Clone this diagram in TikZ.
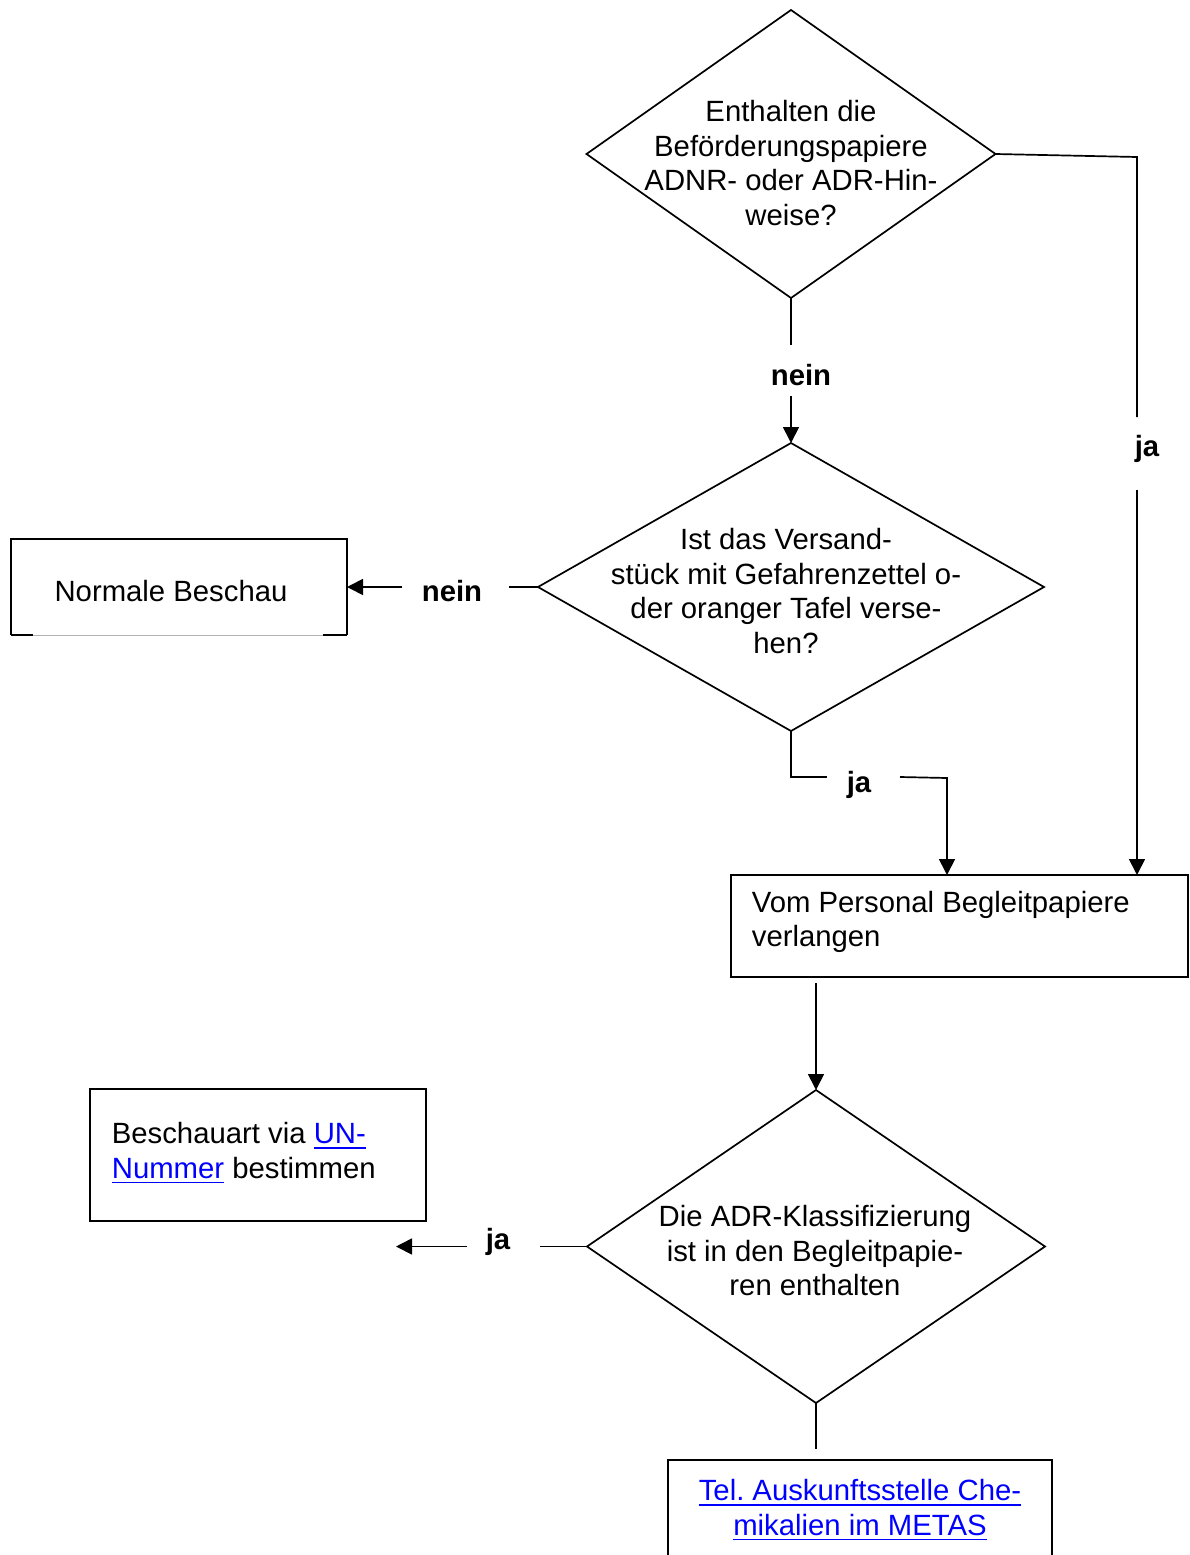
\documentclass[tikz,border=0pt]{standalone}
\usepackage{fontspec}
\setmainfont{Liberation Sans}
\usetikzlibrary{shapes.geometric,arrows.meta}
\definecolor{linkblue}{RGB}{0,0,255}
\newcommand{\lnk}[1]{\textcolor{linkblue}{\setbox0\hbox{#1}\rlap{\rule[-5pt]{\wd0}{1.8pt}}\box0}}
\begin{document}
\begin{tikzpicture}[x=1pt,y=-1pt, line width=1.7pt,
  every node/.style={font=\fontsize{29.3}{34.5}\selectfont},
  decision/.style={diamond, draw, inner sep=0pt, outer sep=0pt},
  box/.style={draw, rectangle, inner sep=0pt, outer sep=0pt},
  txt/.style={align=center, inner sep=0pt},
  ltxt/.style={align=left, inner sep=0pt, anchor=west},
  lbl/.style={font=\fontsize{29.3}{34.5}\selectfont\bfseries, inner sep=0pt},
  arr/.style={-{Triangle[length=16pt,width=16pt]}},
]
\useasboundingbox (0,0) rectangle (1189,1555);
\clip (0,0) rectangle (1189,1555);

% decisions
\node[decision, minimum width=409pt, minimum height=288pt] (d1) at (791,154) {};
\node[txt] (t1) at (791,163) {Enthalten die\\Beförderungspapiere\\ADNR- oder ADR-Hin-\\weise?};
\node[decision, minimum width=506pt, minimum height=288pt] (d2) at (791,587) {};
\node[txt] (t2) at (786,591) {Ist das Versand-\\stück mit Gefahrenzettel o-\\der oranger Tafel verse-\\hen?};
\node[decision, minimum width=458pt, minimum height=313pt] (d3) at (816,1246.5) {};
\node[txt] (t3) at (815,1251) {Die ADR-Klassifizierung\\ist in den Begleitpapie-\\ren enthalten};

% boxes
\node[minimum width=336pt, minimum height=96pt, inner sep=0pt, outer sep=0pt] (nb) at (179,587) {};
\draw (nb.south west) -- (nb.north west) -- (nb.north east) -- (nb.south east);
\draw (nb.south west) -- ++(22,0);
\draw (nb.south east) -- ++(-24,0);
\draw[black!30, line width=1pt] ([xshift=22pt]nb.south west) -- ([xshift=-24pt]nb.south east);
\node[txt] (nbt) at (171,591) {Normale Beschau};

\node[box, minimum width=457pt, minimum height=102pt] (vp) at (959.5,926) {};
\node[ltxt] (vpt) at (751,922) {Vom Personal Begleitpapiere\\verlangen};

\node[box, minimum width=336pt, minimum height=132pt] (ba) at (258,1155) {};
\node[ltxt] (bat) at (111,1153) {Beschauart via \lnk{UN-}\\\lnk{Nummer} bestimmen};

\node[box, minimum width=384pt, minimum height=120pt] (tel) at (860,1520) {};
\node[txt] (telt) at (860,1510) {\lnk{Tel.\ Auskunftsstelle Che-}\\\lnk{mikalien im METAS}};

% labels
\node[lbl] (n1) at (801,375) {nein};
\node[lbl] (j1) at (1147,449) {ja};
\node[lbl] (n2) at (452,591) {nein};
\node[lbl] (j2) at (859,785) {ja};
\node[lbl] (j3) at (498,1242) {ja};

% helper coordinates
\coordinate (c1a) at (791,345);
\coordinate (c1b) at (791,396);
\coordinate (c2a) at (1137,157);
\coordinate (c2b) at (1137,417);
\coordinate (c2c) at (1137,490);
\coordinate (c3a) at (509,587);
\coordinate (c3b) at (402,587);
\coordinate (c4a) at (827,777);
\coordinate (c4b) at (900,777);
\coordinate (c4c) at (947,778);
\coordinate (c5a) at (816,983);
\coordinate (c6a) at (540,1246.5);
\coordinate (c6b) at (467,1246.5);
\coordinate (c6c) at (396,1246.5);
\coordinate (c7a) at (816,1449);

% connectors
\draw (d1.south) -- (c1a);
\draw[arr] (c1b) -- (d2.north);
\draw (d1.east) -- (c2a) -- (c2b);
\draw[arr] (c2c) -- (c2c |- vp.north);
\draw (d2.west) -- (c3a);
\draw[arr] (c3b) -- (nb.east);
\draw (d2.south) |- (c4a);
\draw[arr] (c4b) -- (c4c) -- (c4c |- vp.north);
\draw[arr] (c5a) -- (d3.north);
\draw (d3.west) -- (c6a);
\draw[arr] (c6b) -- (c6c);
\draw (d3.south) -- (c7a);
\end{tikzpicture}
\end{document}
